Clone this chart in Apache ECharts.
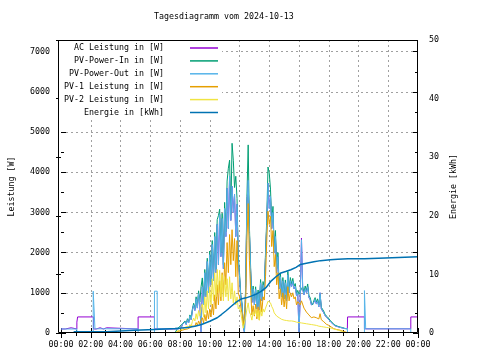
<!DOCTYPE html>
<html><head><meta charset="utf-8">
<script src="https://cdn.jsdelivr.net/npm/echarts@6/dist/echarts.min.js"></script>
<style>html,body{margin:0;padding:0;background:#fff}#c{width:480px;height:360px}</style>
</head><body><div id="c"></div>
<script>
const chartTitle = "Tagesdiagramm vom 2024-10-13";
const seriesNames = ["AC Leistung in [W]", "PV-Power-In in [W]", "PV-Power-Out in [W]", "PV-1 Leistung in [W]", "PV-2 Leistung in [W]", "Energie in [kWh]"];
const leftAxisName = "Leistung [W]";
const rightAxisName = "Energie [kWh]";

// daytime samples every 5 minutes, 07:40 .. 19:15
const dayStart = "07:40";
const dayStepMin = 5;

const pvOutDay = [100,100,115,105,150,130,210,170,280,210,330,250,420,330,560,700,560,850,620,980,720,30,1150,700,1500,900,1780,1000,1950,1200,2200,1300,2400,1500,2700,1700,2950,1900,2850,1600,3100,2400,3600,2600,3900,2800,3650,3000,3450,2400,3200,1800,1400,900,700,200,0,1160,3200,3800,2500,1500,760,1100,700,1080,600,1000,580,1250,800,1200,1050,1900,2700,3730,3100,3400,2600,3000,2000,2400,1500,1900,1100,1400,900,1300,850,1250,800,1450,1000,1300,1150,1290,1100,1160,920,1000,0,900,2320,1080,950,1100,1000,1150,880,830,700,660,760,830,720,800,650,1000,600,550,500,430,400,370,340,300,260,230,200,180,170,160,150,140,130,125,115,110,108,110];
const acDay = [100,100,115,105,150,130,210,170,280,210,330,250,420,330,560,700,560,850,620,980,720,30,1150,700,1500,900,1780,1000,1950,1200,2200,1300,2400,1500,2700,1700,2950,1900,2850,1600,3100,2400,3600,2600,3900,2800,3650,3000,3450,2400,3200,1800,1400,900,700,200,0,1160,3200,3800,2500,1500,760,1100,700,1080,600,1000,580,1250,800,1200,1050,1900,2700,3730,3100,3400,2600,3000,2000,2400,1500,1900,1100,1400,900,1300,850,1250,800,1450,1000,1300,1150,1290,1100,1160,920,1000,0,900,2360,1080,950,1100,1000,1150,880,830,700,660,760,830,720,800,650,1000,600,550,500,430,400,370,340,300,260,230,200,180,170,160,150,140,130,125,115,110,108,110];
const pvInDay = [10,40,110,100,165,145,230,185,300,225,355,270,450,355,600,740,600,900,660,1050,770,1150,1370,760,1580,950,1860,1060,2040,1270,2300,1380,2500,1580,2820,2920,3080,2000,2980,1700,3250,2520,3780,4100,4300,2950,4720,4300,3620,3900,3350,1900,1500,960,760,230,40,1230,3400,4680,2650,1600,820,1170,760,1150,650,1070,630,1330,860,1280,1110,2000,2850,4130,3980,3580,2750,3150,2100,2550,1600,2000,1170,1480,960,1380,900,1320,860,1530,1060,1380,1220,1360,1170,1230,980,1060,960,960,1100,1150,1010,1170,1060,1220,940,880,750,700,810,880,770,850,700,950,640,590,540,460,430,400,370,320,280,250,215,195,180,170,160,150,140,135,125,115,110,100];
const pv1Day = [5,15,40,35,50,45,70,60,90,70,100,80,130,100,170,210,170,260,190,300,220,330,380,250,460,300,560,350,600,400,720,450,950,600,1200,700,1300,800,1500,900,1750,1200,2250,1500,2450,1700,2570,1800,2350,1400,2300,1000,900,650,500,200,180,750,2300,3220,1800,1050,450,680,420,720,350,650,320,850,520,900,820,1400,2300,3030,2700,2900,2150,2550,1650,1950,1200,1500,850,1100,700,1000,650,950,600,1150,800,1000,900,1000,850,900,700,780,750,700,800,760,620,580,520,560,450,430,380,360,400,420,380,420,350,480,330,300,280,240,220,200,190,170,150,130,110,100,90,85,80,70,60,50,40,30,20,10];
const pv2Day = [5,20,50,45,70,60,100,80,140,100,170,120,210,160,290,370,300,480,340,560,420,640,720,400,900,500,1050,600,1150,700,1350,800,1500,900,1580,1000,1560,900,1450,800,1400,900,1350,800,1400,850,1250,750,1050,700,900,600,650,500,320,120,90,400,600,750,520,450,320,520,450,600,400,560,320,580,420,600,520,620,700,790,760,750,660,600,500,540,420,440,380,370,340,350,320,330,310,330,300,320,300,310,290,300,270,280,260,260,250,250,240,240,230,230,220,220,210,200,200,190,190,180,170,170,160,160,150,140,140,130,130,120,120,110,100,90,85,75,65,55,45,35,25,15,5,0];

// night parts [time, value]; "-" = gap
const acEarly = [["00:00",100],["00:17",100],["00:17",130],["00:41",130],["00:41",100],["01:04",100],["01:04",270],["01:07",270],["01:07",400],["02:11",400],["02:11",100],["02:22",100],["02:22",130],["02:38",130],["02:38",100],["02:51",100],["02:51",130],["03:04",130],["03:04",100],["05:11",100],["05:11",400],["06:17",400],["06:17",100],["07:35",100]];
const acLate = [["19:16",110],["19:16",400],["20:24",400],["20:24",104],["20:25",130],["20:31",130],["20:31",104],["23:31",104],["23:31",400],["24:00",400]];
const pvOutEarly = [["00:00",100],["01:04",100],["01:04",0],["01:04","-"],["02:10",0],["02:10",1040],["02:17",1040],["02:17",104],["05:11",104],["05:11",0],["05:11","-"],["06:17",0],["06:17",1040],["06:28",1040],["06:28",104],["07:35",104]];
const pvOutLate = [["19:16",110],["19:16",0],["19:16","-"],["20:24",0],["20:24",1055],["20:29",1055],["20:29",104],["23:31",104],["23:31",0]];
const energyPts = [["00:51",0.2],["03:04",0.2],["03:04",0.45],["04:58",0.45],["04:58",0.6],["06:17",0.6],["06:17",0.75],["07:40",0.75],["08:06",0.85],["08:30",0.95],["09:00",1.15],["09:27",1.45],["10:00",2.0],["10:30",2.6],["10:47",3.15],["11:06",3.8],["11:27",4.57],["11:48",5.3],["12:06",5.8],["12:27",6.0],["12:47",6.3],["13:06",6.6],["13:27",7.1],["13:48",7.8],["14:06",8.8],["14:27",9.6],["14:47",10.25],["15:06",10.5],["15:27",10.8],["15:48",11.2],["16:06",11.7],["16:30",11.9],["17:00",12.15],["17:27",12.35],["18:06",12.5],["18:36",12.6],["19:18",12.65],["20:24",12.65],["20:24",12.8],["21:48",12.8],["21:48",13.0],["24:00",13.0]];

const colors = ["#9400d3","#009e73","#56b4e9","#e69f00","#f0e442","#0072b2"];
const FONT = "DejaVu Sans Mono";
const FS = 8.3;

function hm(s){ const p = s.split(":").map(Number); return p[0] + p[1]/60; }
function pairs(list){ return list.map(function(d){ return [hm(d[0]), d[1]]; }); }
function day(arr){ const s = hm(dayStart); return arr.map(function(v,i){ return [s + i*dayStepMin/60, v]; }); }

const txt = {fontFamily: FONT, fontSize: FS, color: "#000"};
const tickStyle = {color: "#000", width: 1};
const gridLine = {show: true, showMinLine: false, showMaxLine: false, lineStyle: {color: "#a0a0a0", width: 1, type: [2, 3]}};

function lineSeries(i, data, extra){
  return Object.assign({
    name: seriesNames[i], type: "line", data: data, symbol: "none", showSymbol: false,
    lineStyle: {color: colors[i], width: 1}, itemStyle: {color: colors[i]},
    connectNulls: false, sampling: null
  }, extra || {});
}

const chart = echarts.init(document.getElementById("c"), null, {renderer: "canvas"});
chart.setOption({
  animation: false,
  backgroundColor: "#fff",
  title: {text: chartTitle, left: 154, top: 13, padding: 0,
    textStyle: {fontFamily: FONT, fontSize: FS, fontWeight: "normal", color: "#000"}},
  grid: {left: 58, right: 62, top: 40, bottom: 27, show: false},
  graphic: [
    {type: "rect", z: 3, silent: true, shape: {x: 59, y: 41, width: 163, height: 76}, style: {fill: "#fff"}},
    {type: "rect", z: 100, silent: true, shape: {x: 58.5, y: 40.5, width: 359, height: 292}, style: {fill: null, stroke: "#000", lineWidth: 1}}
  ],
  legend: {orient: "vertical", left: 60, top: 43, itemWidth: 28, itemHeight: 1.5, itemGap: 2.9, z: 4,
    icon: "rect", align: "right", padding: [0, 4, 2, 0],
    textStyle: {fontFamily: FONT, fontSize: FS, color: "#000", width: 104, align: "right", padding: [0, 21, 0, 0], lineHeight: 10},
    data: seriesNames},
  xAxis: [
    {type: "value", min: 0, max: 24, interval: 2, position: "bottom",
     axisLine: {show: false},
     axisTick: {inside: true, length: 5, lineStyle: tickStyle},
     minorTick: {show: true, splitNumber: 2, length: 3, lineStyle: tickStyle},
     axisLabel: Object.assign({margin: 8, formatter: function(v){ return String(Math.round(v) % 24).padStart(2, "0") + ":00"; }}, txt),
     splitLine: gridLine},
    {type: "value", min: 0, max: 24, interval: 2, position: "top",
     axisLine: {show: false},
     axisTick: {inside: true, length: 5, lineStyle: tickStyle},
     minorTick: {show: true, splitNumber: 2, length: 3, lineStyle: tickStyle},
     axisLabel: {show: false}, splitLine: {show: false}}
  ],
  yAxis: [
    {type: "value", min: 0, max: 7290, interval: 1000, position: "left",
     name: leftAxisName, nameLocation: "middle", nameRotate: 90, nameGap: 45, nameTextStyle: txt,
     axisLine: {show: false},
     axisTick: {inside: true, length: 5, lineStyle: tickStyle},
     minorTick: {show: true, splitNumber: 2, length: 3, lineStyle: tickStyle},
     axisLabel: Object.assign({margin: 11, showMaxLabel: false, formatter: function(v){ return String(v); }}, txt),
     splitLine: gridLine},
    {type: "value", min: 0, max: 50, interval: 10, position: "right",
     name: rightAxisName, nameLocation: "middle", nameRotate: 90, nameGap: 28, nameTextStyle: txt,
     axisLine: {show: false},
     axisTick: {inside: true, length: 5, lineStyle: tickStyle},
     axisLabel: Object.assign({margin: 11}, txt),
     splitLine: {show: false}},
    {type: "value", min: 0, max: 7290, interval: 1000, position: "right",
     axisLine: {show: false},
     axisTick: {inside: true, length: 5, lineStyle: tickStyle},
     minorTick: {show: true, splitNumber: 2, length: 3, lineStyle: tickStyle},
     axisLabel: {show: false}, splitLine: {show: false}}
  ],
  series: [
    lineSeries(0, pairs(acEarly).concat(day(acDay), pairs(acLate))),
    lineSeries(1, day(pvInDay)),
    lineSeries(2, pairs(pvOutEarly).concat(day(pvOutDay), pairs(pvOutLate))),
    lineSeries(3, day(pv1Day)),
    lineSeries(4, day(pv2Day)),
    lineSeries(5, pairs(energyPts), {yAxisIndex: 1, lineStyle: {color: colors[5], width: 1.5}})
  ]
});
</script>
</body></html>
